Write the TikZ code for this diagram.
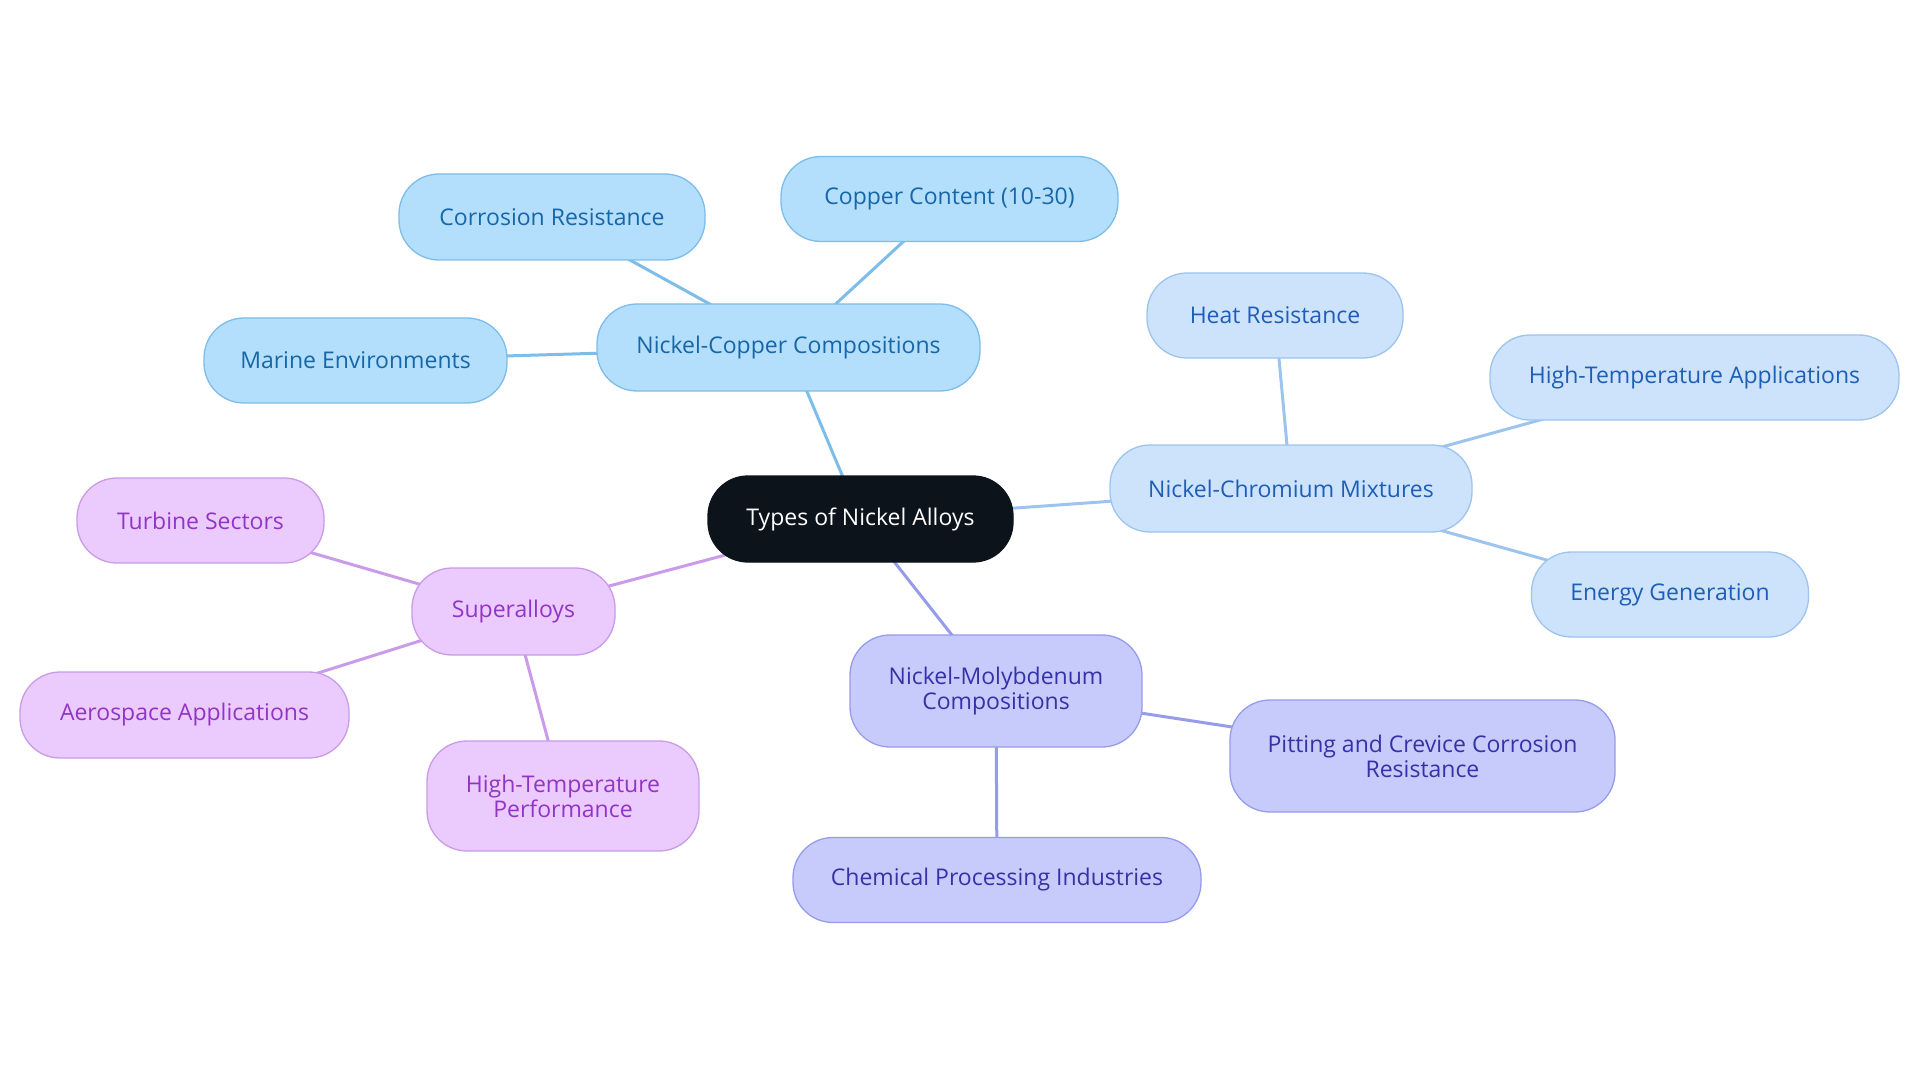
\documentclass[tikz,border=0pt]{standalone}
\usepackage{fontspec}
\setmainfont{Open Sans}
\usetikzlibrary{backgrounds}
\definecolor{cuFill}{HTML}{B3DFFC}\definecolor{cuLine}{HTML}{7DBDE9}\definecolor{cuText}{HTML}{1766A8}
\definecolor{crFill}{HTML}{CDE3FB}\definecolor{crLine}{HTML}{9DC4EE}\definecolor{crText}{HTML}{1F5EB6}
\definecolor{suFill}{HTML}{EBCBFD}\definecolor{suLine}{HTML}{C99BE8}\definecolor{suText}{HTML}{9234C6}
\definecolor{moFill}{HTML}{C7CBFC}\definecolor{moLine}{HTML}{979CEA}\definecolor{moText}{HTML}{3632A6}
\definecolor{ctFill}{HTML}{0D131A}
\tikzset{
  pill/.style={rounded corners=40pt, line width=1.3pt, align=center, inner sep=0pt,
    font=\fontsize{23}{25}\selectfont},
  cu/.style={pill, fill=cuFill, draw=cuLine, text=cuText},
  cr/.style={pill, fill=crFill, draw=crLine, text=crText},
  su/.style={pill, fill=suFill, draw=suLine, text=suText},
  mo/.style={pill, fill=moFill, draw=moLine, text=moText},
  ct/.style={pill, fill=ctFill, draw=ctFill, text=white},
  link/.style={line width=3pt},
}
\newcommand{\pillnode}[6]{\node[#1, minimum width=#4pt, minimum height=#5pt] (#2) at (#3) {#6};}
\begin{document}
\begin{tikzpicture}[x=1pt,y=-1pt]
\path[use as bounding box] (0,0) rectangle (1920,1083);
\pillnode{ct}{root}{860.5,519}{305}{86}{Types of Nickel Alloys}
\pillnode{cu}{cu}{788.5,347.5}{383}{87}{Nickel-Copper Compositions}
\pillnode{cu}{corr}{552,217}{306}{86}{Corrosion Resistance}
\pillnode{cu}{copper}{949.5,199}{337}{85}{Copper Content (10-30)}
\pillnode{cu}{marine}{355.5,360.5}{303}{85}{Marine Environments}
\pillnode{cr}{cr}{1291,488.5}{362}{87}{Nickel-Chromium Mixtures}
\pillnode{cr}{heat}{1275,315.5}{256}{85}{Heat Resistance}
\pillnode{cr}{hta}{1694.5,377.5}{409}{85}{High-Temperature Applications}
\pillnode{cr}{energy}{1670,594.5}{277}{85}{Energy Generation}
\pillnode{su}{su}{513.5,611.5}{203}{87}{Superalloys}
\pillnode{su}{turbine}{200.5,520.5}{247}{85}{Turbine Sectors}
\pillnode{su}{aero}{184.5,715}{329}{86}{Aerospace Applications}
\pillnode{su}{htp}{563,796}{272}{110}{High-Temperature\\Performance}
\pillnode{mo}{mo}{996,691}{292}{112}{Nickel-Molybdenum\\Compositions}
\pillnode{mo}{pit}{1422.5,756}{385}{112}{Pitting and Crevice Corrosion\\Resistance}
\pillnode{mo}{chem}{997,880}{408}{85}{Chemical Processing Industries}
\begin{scope}[on background layer]
\fill[white] (0,0) rectangle (1920,1083);
\draw[link, cuLine] (root.center) -- (cu.center);
\draw[link, cuLine] (cu.center) -- (corr.center);
\draw[link, cuLine] (cu.center) -- (copper.center);
\draw[link, cuLine] (cu.center) -- (marine.center);
\draw[link, crLine] (root.center) -- (cr.center);
\draw[link, crLine] (cr.center) -- (heat.center);
\draw[link, crLine] (cr.center) -- (hta.center);
\draw[link, crLine] (cr.center) -- (energy.center);
\draw[link, suLine] (root.center) -- (su.center);
\draw[link, suLine] (su.center) -- (turbine.center);
\draw[link, suLine] (su.center) -- (aero.center);
\draw[link, suLine] (su.center) -- (htp.center);
\draw[link, moLine] (root.center) -- (mo.center);
\draw[link, moLine] (mo.center) -- (pit.center);
\draw[link, moLine] (mo.center) -- (chem.center);
\end{scope}
\end{tikzpicture}
\end{document}
